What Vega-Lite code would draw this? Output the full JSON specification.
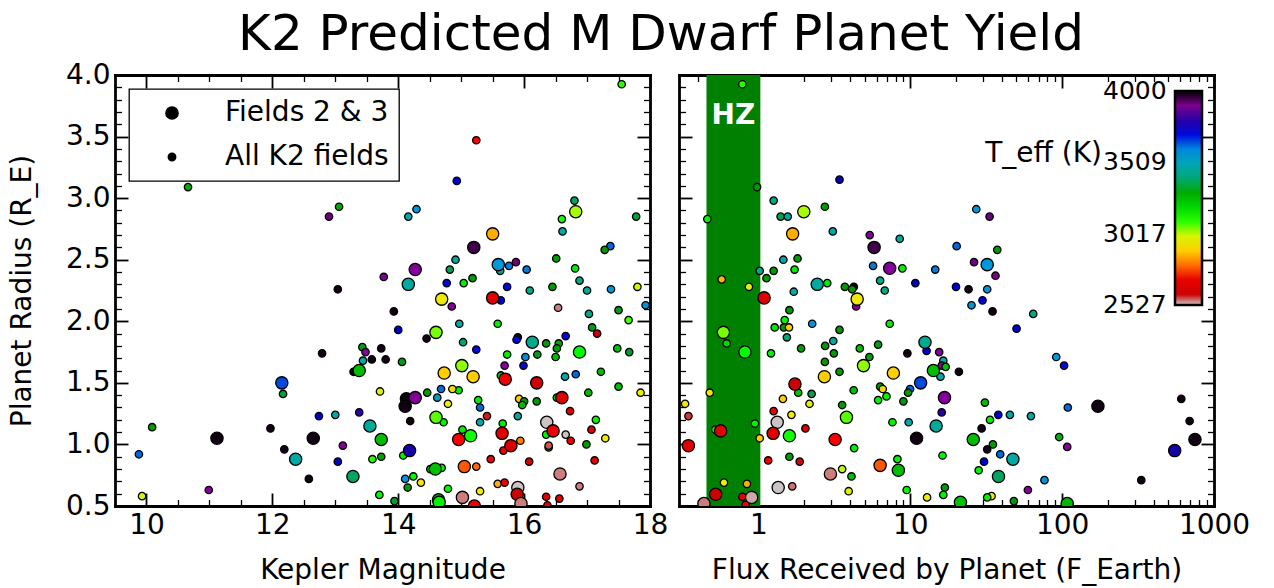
{
  "$schema": "https://vega.github.io/schema/vega-lite/v6.json",
  "background": "white",
  "padding": {"left": 8, "top": 10, "right": 5, "bottom": 8},
  "bounds": "flush",
  "title": {"text": "K2 Predicted M Dwarf Planet Yield", "font": "DejaVu Sans", "fontSize": 50, "fontWeight": "normal", "color": "black", "anchor": "middle", "offset": 1, "dx": 32},
  "config": {
    "font": "DejaVu Sans",
    "view": {"stroke": null},
    "axis": {"labelFont": "DejaVu Sans", "labelFontSize": 28, "labelColor": "black", "titleFont": "DejaVu Sans", "titleFontSize": 28, "titleFontWeight": "normal", "titleColor": "black", "grid": false, "tickColor": "black", "domainColor": "black", "labelFlush": false, "labelOverlap": false, "zindex": 1},
    "legend": {"strokeWidth": 1.3}
  },
  "datasets": {
    "left": [
      {"mag":10.66,"radius":3.09,"teff":3300,"group":"All K2 fields"},
      {"mag":14.93,"radius":3.14,"teff":3720,"group":"All K2 fields"},
      {"mag":13.06,"radius":2.93,"teff":3300,"group":"All K2 fields"},
      {"mag":12.90,"radius":2.85,"teff":3930,"group":"All K2 fields"},
      {"mag":14.29,"radius":2.91,"teff":3560,"group":"All K2 fields"},
      {"mag":14.16,"radius":2.85,"teff":3470,"group":"All K2 fields"},
      {"mag":14.91,"radius":2.50,"teff":3470,"group":"All K2 fields"},
      {"mag":14.82,"radius":2.42,"teff":3380,"group":"All K2 fields"},
      {"mag":14.27,"radius":2.42,"teff":3850,"group":"Fields 2 & 3"},
      {"mag":13.77,"radius":2.36,"teff":3850,"group":"All K2 fields"},
      {"mag":14.16,"radius":2.30,"teff":3470,"group":"Fields 2 & 3"},
      {"mag":14.77,"radius":2.31,"teff":3700,"group":"All K2 fields"},
      {"mag":13.04,"radius":2.26,"teff":3990,"group":"All K2 fields"},
      {"mag":14.69,"radius":2.18,"teff":2960,"group":"Fields 2 & 3"},
      {"mag":17.55,"radius":3.925,"teff":3100,"group":"All K2 fields"},
      {"mag":15.24,"radius":3.47,"teff":2745,"group":"All K2 fields"},
      {"mag":16.80,"radius":2.98,"teff":3390,"group":"All K2 fields"},
      {"mag":16.82,"radius":2.89,"teff":3050,"group":"Fields 2 & 3"},
      {"mag":16.60,"radius":2.83,"teff":3110,"group":"All K2 fields"},
      {"mag":17.78,"radius":2.85,"teff":3370,"group":"All K2 fields"},
      {"mag":16.61,"radius":2.73,"teff":3480,"group":"All K2 fields"},
      {"mag":15.50,"radius":2.71,"teff":2850,"group":"Fields 2 & 3"},
      {"mag":15.20,"radius":2.60,"teff":3960,"group":"Fields 2 & 3"},
      {"mag":17.37,"radius":2.61,"teff":3640,"group":"All K2 fields"},
      {"mag":17.28,"radius":2.58,"teff":3340,"group":"All K2 fields"},
      {"mag":16.51,"radius":2.51,"teff":3340,"group":"All K2 fields"},
      {"mag":15.59,"radius":2.46,"teff":3560,"group":"Fields 2 & 3"},
      {"mag":15.62,"radius":2.41,"teff":3420,"group":"All K2 fields"},
      {"mag":15.76,"radius":2.45,"teff":3620,"group":"All K2 fields"},
      {"mag":15.87,"radius":2.48,"teff":3930,"group":"All K2 fields"},
      {"mag":16.04,"radius":2.42,"teff":3620,"group":"All K2 fields"},
      {"mag":16.81,"radius":2.43,"teff":3150,"group":"All K2 fields"},
      {"mag":16.88,"radius":2.33,"teff":3410,"group":"All K2 fields"},
      {"mag":17.80,"radius":2.28,"teff":3010,"group":"All K2 fields"},
      {"mag":15.04,"radius":2.31,"teff":3150,"group":"All K2 fields"},
      {"mag":15.18,"radius":2.35,"teff":3340,"group":"All K2 fields"},
      {"mag":15.73,"radius":2.28,"teff":3700,"group":"All K2 fields"},
      {"mag":16.09,"radius":2.25,"teff":3410,"group":"All K2 fields"},
      {"mag":16.45,"radius":2.28,"teff":3330,"group":"All K2 fields"},
      {"mag":17.00,"radius":2.25,"teff":3440,"group":"All K2 fields"},
      {"mag":17.38,"radius":2.26,"teff":3560,"group":"All K2 fields"},
      {"mag":15.50,"radius":2.19,"teff":2680,"group":"Fields 2 & 3"},
      {"mag":15.63,"radius":2.17,"teff":3730,"group":"All K2 fields"},
      {"mag":16.54,"radius":2.11,"teff":2555,"group":"All K2 fields"},
      {"mag":17.03,"radius":2.06,"teff":3410,"group":"All K2 fields"},
      {"mag":17.50,"radius":2.09,"teff":3350,"group":"All K2 fields"},
      {"mag":17.93,"radius":2.13,"teff":3570,"group":"All K2 fields"},
      {"mag":14.97,"radius":1.98,"teff":3480,"group":"All K2 fields"},
      {"mag":15.58,"radius":1.98,"teff":3150,"group":"All K2 fields"},
      {"mag":17.66,"radius":2.01,"teff":3090,"group":"All K2 fields"},
      {"mag":17.08,"radius":1.95,"teff":3350,"group":"All K2 fields"},
      {"mag":17.16,"radius":1.90,"teff":2600,"group":"All K2 fields"},
      {"mag":15.03,"radius":1.83,"teff":3400,"group":"All K2 fields"},
      {"mag":15.24,"radius":1.77,"teff":3700,"group":"All K2 fields"},
      {"mag":15.90,"radius":1.87,"teff":3990,"group":"All K2 fields"},
      {"mag":15.88,"radius":1.85,"teff":3700,"group":"All K2 fields"},
      {"mag":16.13,"radius":1.83,"teff":3420,"group":"Fields 2 & 3"},
      {"mag":16.35,"radius":1.82,"teff":3340,"group":"All K2 fields"},
      {"mag":16.55,"radius":1.82,"teff":3300,"group":"All K2 fields"},
      {"mag":16.52,"radius":1.78,"teff":3340,"group":"All K2 fields"},
      {"mag":16.66,"radius":1.88,"teff":3700,"group":"All K2 fields"},
      {"mag":16.88,"radius":1.75,"teff":3120,"group":"Fields 2 & 3"},
      {"mag":17.48,"radius":1.78,"teff":3250,"group":"All K2 fields"},
      {"mag":17.67,"radius":1.75,"teff":3360,"group":"All K2 fields"},
      {"mag":15.73,"radius":1.73,"teff":3150,"group":"All K2 fields"},
      {"mag":16.02,"radius":1.71,"teff":3590,"group":"All K2 fields"},
      {"mag":16.21,"radius":1.73,"teff":3350,"group":"All K2 fields"},
      {"mag":16.50,"radius":1.71,"teff":3260,"group":"All K2 fields"},
      {"mag":15.99,"radius":1.64,"teff":3700,"group":"All K2 fields"},
      {"mag":15.69,"radius":1.64,"teff":3850,"group":"All K2 fields"},
      {"mag":15.01,"radius":1.64,"teff":3060,"group":"Fields 2 & 3"},
      {"mag":15.19,"radius":1.55,"teff":2900,"group":"Fields 2 & 3"},
      {"mag":15.63,"radius":1.56,"teff":3250,"group":"All K2 fields"},
      {"mag":15.70,"radius":1.53,"teff":2720,"group":"Fields 2 & 3"},
      {"mag":16.20,"radius":1.50,"teff":2610,"group":"Fields 2 & 3"},
      {"mag":16.65,"radius":1.55,"teff":3480,"group":"All K2 fields"},
      {"mag":16.82,"radius":1.57,"teff":3640,"group":"All K2 fields"},
      {"mag":17.22,"radius":1.59,"teff":3260,"group":"All K2 fields"},
      {"mag":17.50,"radius":1.47,"teff":3260,"group":"All K2 fields"},
      {"mag":17.85,"radius":1.42,"teff":2970,"group":"All K2 fields"},
      {"mag":17.02,"radius":1.42,"teff":3260,"group":"All K2 fields"},
      {"mag":16.52,"radius":1.38,"teff":3250,"group":"All K2 fields"},
      {"mag":16.60,"radius":1.38,"teff":2680,"group":"Fields 2 & 3"},
      {"mag":16.73,"radius":1.27,"teff":2680,"group":"All K2 fields"},
      {"mag":14.96,"radius":1.44,"teff":3150,"group":"All K2 fields"},
      {"mag":15.27,"radius":1.36,"teff":3150,"group":"All K2 fields"},
      {"mag":15.30,"radius":1.30,"teff":3640,"group":"All K2 fields"},
      {"mag":15.41,"radius":1.23,"teff":2590,"group":"All K2 fields"},
      {"mag":15.30,"radius":1.18,"teff":3470,"group":"All K2 fields"},
      {"mag":15.92,"radius":1.37,"teff":2900,"group":"All K2 fields"},
      {"mag":16.00,"radius":1.35,"teff":3340,"group":"All K2 fields"},
      {"mag":15.97,"radius":1.32,"teff":3260,"group":"All K2 fields"},
      {"mag":16.20,"radius":1.35,"teff":3340,"group":"All K2 fields"},
      {"mag":15.90,"radius":1.23,"teff":3470,"group":"All K2 fields"},
      {"mag":15.02,"radius":1.12,"teff":3150,"group":"All K2 fields"},
      {"mag":15.15,"radius":1.07,"teff":3110,"group":"Fields 2 & 3"},
      {"mag":14.96,"radius":1.04,"teff":2740,"group":"Fields 2 & 3"},
      {"mag":15.66,"radius":1.17,"teff":3150,"group":"All K2 fields"},
      {"mag":15.65,"radius":1.09,"teff":2680,"group":"Fields 2 & 3"},
      {"mag":16.36,"radius":1.18,"teff":2530,"group":"Fields 2 & 3"},
      {"mag":16.46,"radius":1.11,"teff":2720,"group":"Fields 2 & 3"},
      {"mag":16.35,"radius":1.08,"teff":3130,"group":"All K2 fields"},
      {"mag":16.66,"radius":1.08,"teff":2530,"group":"All K2 fields"},
      {"mag":16.74,"radius":1.03,"teff":2700,"group":"All K2 fields"},
      {"mag":17.07,"radius":1.12,"teff":2700,"group":"All K2 fields"},
      {"mag":17.14,"radius":1.20,"teff":3130,"group":"All K2 fields"},
      {"mag":17.29,"radius":1.05,"teff":2960,"group":"All K2 fields"},
      {"mag":16.99,"radius":1.00,"teff":3330,"group":"All K2 fields"},
      {"mag":16.39,"radius":0.975,"teff":3340,"group":"All K2 fields"},
      {"mag":16.39,"radius":0.99,"teff":2570,"group":"All K2 fields"},
      {"mag":15.79,"radius":0.99,"teff":2670,"group":"Fields 2 & 3"},
      {"mag":15.67,"radius":0.95,"teff":2710,"group":"All K2 fields"},
      {"mag":15.94,"radius":1.03,"teff":2810,"group":"All K2 fields"},
      {"mag":15.05,"radius":0.82,"teff":2790,"group":"Fields 2 & 3"},
      {"mag":15.24,"radius":0.82,"teff":2800,"group":"All K2 fields"},
      {"mag":15.47,"radius":0.88,"teff":2710,"group":"All K2 fields"},
      {"mag":16.08,"radius":0.86,"teff":2670,"group":"All K2 fields"},
      {"mag":17.12,"radius":0.87,"teff":2690,"group":"All K2 fields"},
      {"mag":16.57,"radius":0.76,"teff":2555,"group":"Fields 2 & 3"},
      {"mag":16.88,"radius":0.66,"teff":2555,"group":"All K2 fields"},
      {"mag":15.58,"radius":0.68,"teff":2850,"group":"All K2 fields"},
      {"mag":15.69,"radius":0.69,"teff":2710,"group":"All K2 fields"},
      {"mag":15.30,"radius":0.62,"teff":2970,"group":"All K2 fields"},
      {"mag":15.90,"radius":0.65,"teff":2530,"group":"Fields 2 & 3"},
      {"mag":15.89,"radius":0.595,"teff":2600,"group":"Fields 2 & 3"},
      {"mag":15.95,"radius":0.52,"teff":2555,"group":"Fields 2 & 3"},
      {"mag":16.35,"radius":0.575,"teff":2670,"group":"All K2 fields"},
      {"mag":16.56,"radius":0.56,"teff":2680,"group":"All K2 fields"},
      {"mag":16.37,"radius":0.505,"teff":2700,"group":"All K2 fields"},
      {"mag":15.02,"radius":0.57,"teff":2555,"group":"Fields 2 & 3"},
      {"mag":15.21,"radius":0.50,"teff":2720,"group":"Fields 2 & 3"},
      {"mag":14.85,"radius":2.12,"teff":3880,"group":"All K2 fields"},
      {"mag":13.93,"radius":2.08,"teff":3990,"group":"All K2 fields"},
      {"mag":14.00,"radius":1.93,"teff":3730,"group":"All K2 fields"},
      {"mag":14.45,"radius":1.86,"teff":3990,"group":"All K2 fields"},
      {"mag":14.60,"radius":1.91,"teff":3070,"group":"Fields 2 & 3"},
      {"mag":12.79,"radius":1.74,"teff":3990,"group":"All K2 fields"},
      {"mag":13.43,"radius":1.79,"teff":3350,"group":"All K2 fields"},
      {"mag":13.48,"radius":1.75,"teff":3850,"group":"All K2 fields"},
      {"mag":13.73,"radius":1.78,"teff":3990,"group":"All K2 fields"},
      {"mag":13.44,"radius":1.68,"teff":3470,"group":"All K2 fields"},
      {"mag":13.58,"radius":1.69,"teff":3990,"group":"All K2 fields"},
      {"mag":13.80,"radius":1.69,"teff":3990,"group":"All K2 fields"},
      {"mag":14.06,"radius":1.67,"teff":3350,"group":"All K2 fields"},
      {"mag":13.29,"radius":1.59,"teff":3990,"group":"All K2 fields"},
      {"mag":13.38,"radius":1.60,"teff":3260,"group":"Fields 2 & 3"},
      {"mag":14.73,"radius":1.58,"teff":2900,"group":"Fields 2 & 3"},
      {"mag":12.15,"radius":1.50,"teff":3660,"group":"Fields 2 & 3"},
      {"mag":12.17,"radius":1.41,"teff":3370,"group":"All K2 fields"},
      {"mag":13.71,"radius":1.43,"teff":3000,"group":"All K2 fields"},
      {"mag":14.13,"radius":1.37,"teff":3990,"group":"Fields 2 & 3"},
      {"mag":14.27,"radius":1.38,"teff":3850,"group":"Fields 2 & 3"},
      {"mag":14.11,"radius":1.31,"teff":3990,"group":"Fields 2 & 3"},
      {"mag":14.46,"radius":1.42,"teff":3340,"group":"All K2 fields"},
      {"mag":14.62,"radius":1.38,"teff":3530,"group":"All K2 fields"},
      {"mag":14.68,"radius":1.45,"teff":3640,"group":"All K2 fields"},
      {"mag":14.86,"radius":1.45,"teff":2920,"group":"All K2 fields"},
      {"mag":14.79,"radius":1.33,"teff":2970,"group":"All K2 fields"},
      {"mag":14.19,"radius":1.19,"teff":3990,"group":"All K2 fields"},
      {"mag":14.60,"radius":1.22,"teff":3080,"group":"Fields 2 & 3"},
      {"mag":14.72,"radius":1.18,"teff":3140,"group":"All K2 fields"},
      {"mag":12.74,"radius":1.23,"teff":3730,"group":"All K2 fields"},
      {"mag":13.00,"radius":1.24,"teff":3480,"group":"All K2 fields"},
      {"mag":13.38,"radius":1.26,"teff":3800,"group":"All K2 fields"},
      {"mag":13.55,"radius":1.15,"teff":3450,"group":"Fields 2 & 3"},
      {"mag":13.73,"radius":1.04,"teff":3260,"group":"Fields 2 & 3"},
      {"mag":11.97,"radius":1.13,"teff":3990,"group":"All K2 fields"},
      {"mag":12.65,"radius":1.05,"teff":3990,"group":"Fields 2 & 3"},
      {"mag":12.19,"radius":0.96,"teff":3990,"group":"All K2 fields"},
      {"mag":13.12,"radius":0.99,"teff":3860,"group":"All K2 fields"},
      {"mag":12.37,"radius":0.88,"teff":3470,"group":"Fields 2 & 3"},
      {"mag":13.04,"radius":0.86,"teff":3730,"group":"All K2 fields"},
      {"mag":13.59,"radius":0.88,"teff":3100,"group":"All K2 fields"},
      {"mag":13.73,"radius":0.90,"teff":3320,"group":"All K2 fields"},
      {"mag":14.08,"radius":0.91,"teff":3140,"group":"All K2 fields"},
      {"mag":14.18,"radius":0.95,"teff":3790,"group":"Fields 2 & 3"},
      {"mag":14.51,"radius":0.80,"teff":3260,"group":"All K2 fields"},
      {"mag":14.59,"radius":0.80,"teff":3250,"group":"Fields 2 & 3"},
      {"mag":14.69,"radius":0.81,"teff":3130,"group":"All K2 fields"},
      {"mag":13.28,"radius":0.74,"teff":3390,"group":"Fields 2 & 3"},
      {"mag":12.58,"radius":0.72,"teff":3990,"group":"All K2 fields"},
      {"mag":14.11,"radius":0.72,"teff":3560,"group":"All K2 fields"},
      {"mag":14.24,"radius":0.74,"teff":3130,"group":"All K2 fields"},
      {"mag":14.36,"radius":0.69,"teff":2960,"group":"All K2 fields"},
      {"mag":14.15,"radius":0.65,"teff":3340,"group":"All K2 fields"},
      {"mag":14.79,"radius":0.64,"teff":3130,"group":"All K2 fields"},
      {"mag":13.70,"radius":0.59,"teff":3130,"group":"All K2 fields"},
      {"mag":13.94,"radius":0.54,"teff":3360,"group":"All K2 fields"},
      {"mag":14.64,"radius":0.55,"teff":3300,"group":"Fields 2 & 3"},
      {"mag":14.65,"radius":0.53,"teff":3140,"group":"Fields 2 & 3"},
      {"mag":9.88,"radius":0.92,"teff":3640,"group":"All K2 fields"},
      {"mag":10.09,"radius":1.14,"teff":3330,"group":"All K2 fields"},
      {"mag":11.12,"radius":1.05,"teff":3990,"group":"Fields 2 & 3"},
      {"mag":9.93,"radius":0.58,"teff":3000,"group":"All K2 fields"},
      {"mag":10.99,"radius":0.63,"teff":3850,"group":"All K2 fields"}
    ],
    "right": [
      {"flux":0.784,"radius":3.925,"teff":3100,"group":"All K2 fields"},
      {"flux":0.98,"radius":3.09,"teff":3330,"group":"All K2 fields"},
      {"flux":0.461,"radius":2.83,"teff":3130,"group":"All K2 fields"},
      {"flux":3.42,"radius":3.15,"teff":3730,"group":"All K2 fields"},
      {"flux":1.26,"radius":2.98,"teff":3410,"group":"All K2 fields"},
      {"flux":1.99,"radius":2.89,"teff":3050,"group":"Fields 2 & 3"},
      {"flux":2.74,"radius":2.93,"teff":3330,"group":"All K2 fields"},
      {"flux":1.40,"radius":2.85,"teff":3380,"group":"All K2 fields"},
      {"flux":1.56,"radius":2.85,"teff":3470,"group":"All K2 fields"},
      {"flux":3.09,"radius":2.73,"teff":3480,"group":"All K2 fields"},
      {"flux":1.68,"radius":2.71,"teff":2850,"group":"Fields 2 & 3"},
      {"flux":1.02,"radius":2.41,"teff":3420,"group":"All K2 fields"},
      {"flux":1.13,"radius":2.35,"teff":3340,"group":"All K2 fields"},
      {"flux":1.26,"radius":2.41,"teff":3340,"group":"All K2 fields"},
      {"flux":1.46,"radius":2.50,"teff":3470,"group":"All K2 fields"},
      {"flux":1.81,"radius":2.51,"teff":3340,"group":"All K2 fields"},
      {"flux":1.73,"radius":2.42,"teff":3150,"group":"All K2 fields"},
      {"flux":0.573,"radius":2.34,"teff":2860,"group":"All K2 fields"},
      {"flux":0.866,"radius":2.28,"teff":2990,"group":"All K2 fields"},
      {"flux":2.44,"radius":2.30,"teff":3470,"group":"Fields 2 & 3"},
      {"flux":2.84,"radius":2.31,"teff":3150,"group":"All K2 fields"},
      {"flux":3.71,"radius":2.28,"teff":3340,"group":"All K2 fields"},
      {"flux":4.25,"radius":2.28,"teff":3990,"group":"All K2 fields"},
      {"flux":4.14,"radius":2.26,"teff":3340,"group":"All K2 fields"},
      {"flux":4.47,"radius":2.18,"teff":2960,"group":"Fields 2 & 3"},
      {"flux":1.71,"radius":2.24,"teff":3480,"group":"All K2 fields"},
      {"flux":1.09,"radius":2.19,"teff":2680,"group":"Fields 2 & 3"},
      {"flux":27.2,"radius":2.91,"teff":3560,"group":"All K2 fields"},
      {"flux":33.3,"radius":2.85,"teff":3930,"group":"All K2 fields"},
      {"flux":5.41,"radius":2.70,"teff":3850,"group":"All K2 fields"},
      {"flux":8.52,"radius":2.67,"teff":3470,"group":"All K2 fields"},
      {"flux":5.78,"radius":2.60,"teff":3960,"group":"Fields 2 & 3"},
      {"flux":20.2,"radius":2.61,"teff":3640,"group":"All K2 fields"},
      {"flux":37.4,"radius":2.58,"teff":3340,"group":"All K2 fields"},
      {"flux":26.3,"radius":2.48,"teff":3930,"group":"All K2 fields"},
      {"flux":32.1,"radius":2.46,"teff":3560,"group":"Fields 2 & 3"},
      {"flux":36.4,"radius":2.37,"teff":3900,"group":"All K2 fields"},
      {"flux":5.69,"radius":2.45,"teff":3620,"group":"All K2 fields"},
      {"flux":7.32,"radius":2.43,"teff":3850,"group":"Fields 2 & 3"},
      {"flux":8.87,"radius":2.43,"teff":3140,"group":"All K2 fields"},
      {"flux":6.33,"radius":2.33,"teff":3410,"group":"All K2 fields"},
      {"flux":6.79,"radius":2.25,"teff":3410,"group":"All K2 fields"},
      {"flux":10.8,"radius":2.31,"teff":3730,"group":"All K2 fields"},
      {"flux":14.6,"radius":2.42,"teff":3620,"group":"All K2 fields"},
      {"flux":20.0,"radius":2.28,"teff":3710,"group":"All K2 fields"},
      {"flux":24.2,"radius":2.26,"teff":3990,"group":"All K2 fields"},
      {"flux":32.1,"radius":2.26,"teff":3560,"group":"All K2 fields"},
      {"flux":91.4,"radius":1.71,"teff":3560,"group":"All K2 fields"},
      {"flux":103,"radius":1.64,"teff":3700,"group":"All K2 fields"},
      {"flux":109,"radius":1.30,"teff":3640,"group":"All K2 fields"},
      {"flux":172,"radius":1.31,"teff":3990,"group":"Fields 2 & 3"},
      {"flux":95.6,"radius":1.06,"teff":3280,"group":"All K2 fields"},
      {"flux":108,"radius":0.98,"teff":3860,"group":"All K2 fields"},
      {"flux":76.5,"radius":0.71,"teff":3570,"group":"All K2 fields"},
      {"flux":332,"radius":0.71,"teff":3990,"group":"All K2 fields"},
      {"flux":609,"radius":1.37,"teff":3990,"group":"All K2 fields"},
      {"flux":691,"radius":1.19,"teff":3990,"group":"All K2 fields"},
      {"flux":749,"radius":1.04,"teff":3990,"group":"Fields 2 & 3"},
      {"flux":551,"radius":0.95,"teff":3790,"group":"Fields 2 & 3"},
      {"flux":108,"radius":0.52,"teff":3270,"group":"Fields 2 & 3"},
      {"flux":25.3,"radius":2.13,"teff":3560,"group":"All K2 fields"},
      {"flux":29.9,"radius":2.17,"teff":3710,"group":"All K2 fields"},
      {"flux":34.8,"radius":2.08,"teff":3990,"group":"All K2 fields"},
      {"flux":64.5,"radius":2.06,"teff":3410,"group":"All K2 fields"},
      {"flux":7.32,"radius":1.98,"teff":3150,"group":"All K2 fields"},
      {"flux":50.1,"radius":1.94,"teff":3720,"group":"All K2 fields"},
      {"flux":6.14,"radius":1.81,"teff":3350,"group":"All K2 fields"},
      {"flux":4.65,"radius":1.78,"teff":3250,"group":"All K2 fields"},
      {"flux":5.38,"radius":1.71,"teff":3350,"group":"All K2 fields"},
      {"flux":4.92,"radius":1.64,"teff":3060,"group":"Fields 2 & 3"},
      {"flux":7.74,"radius":1.58,"teff":2900,"group":"Fields 2 & 3"},
      {"flux":9.57,"radius":1.74,"teff":3990,"group":"All K2 fields"},
      {"flux":12.5,"radius":1.83,"teff":3420,"group":"Fields 2 & 3"},
      {"flux":12.8,"radius":1.76,"teff":3720,"group":"All K2 fields"},
      {"flux":15.5,"radius":1.75,"teff":3850,"group":"All K2 fields"},
      {"flux":16.5,"radius":1.68,"teff":3470,"group":"All K2 fields"},
      {"flux":16.1,"radius":1.64,"teff":3860,"group":"All K2 fields"},
      {"flux":17.1,"radius":1.63,"teff":3250,"group":"All K2 fields"},
      {"flux":14.2,"radius":1.60,"teff":3260,"group":"Fields 2 & 3"},
      {"flux":15.8,"radius":1.55,"teff":3470,"group":"All K2 fields"},
      {"flux":20.9,"radius":1.59,"teff":3990,"group":"All K2 fields"},
      {"flux":11.7,"radius":1.50,"teff":3660,"group":"Fields 2 & 3"},
      {"flux":9.97,"radius":1.45,"teff":3640,"group":"All K2 fields"},
      {"flux":9.67,"radius":1.42,"teff":3340,"group":"All K2 fields"},
      {"flux":6.33,"radius":1.47,"teff":3340,"group":"All K2 fields"},
      {"flux":6.59,"radius":1.45,"teff":2920,"group":"All K2 fields"},
      {"flux":6.97,"radius":1.39,"teff":3140,"group":"All K2 fields"},
      {"flux":6.14,"radius":1.36,"teff":3140,"group":"All K2 fields"},
      {"flux":9.01,"radius":1.35,"teff":3340,"group":"All K2 fields"},
      {"flux":16.8,"radius":1.38,"teff":3850,"group":"Fields 2 & 3"},
      {"flux":16.1,"radius":1.26,"teff":3800,"group":"All K2 fields"},
      {"flux":7.63,"radius":1.18,"teff":3140,"group":"All K2 fields"},
      {"flux":9.76,"radius":1.18,"teff":3480,"group":"All K2 fields"},
      {"flux":14.8,"radius":1.15,"teff":3450,"group":"Fields 2 & 3"},
      {"flux":11.0,"radius":1.05,"teff":3990,"group":"Fields 2 & 3"},
      {"flux":31.0,"radius":1.34,"teff":3260,"group":"All K2 fields"},
      {"flux":38.0,"radius":1.24,"teff":3720,"group":"All K2 fields"},
      {"flux":33.5,"radius":1.20,"teff":3140,"group":"All K2 fields"},
      {"flux":45.3,"radius":1.24,"teff":3480,"group":"All K2 fields"},
      {"flux":62.3,"radius":1.23,"teff":3480,"group":"All K2 fields"},
      {"flux":29.5,"radius":1.13,"teff":3990,"group":"All K2 fields"},
      {"flux":26.0,"radius":1.04,"teff":3260,"group":"Fields 2 & 3"},
      {"flux":35.0,"radius":1.00,"teff":3330,"group":"All K2 fields"},
      {"flux":32.1,"radius":0.96,"teff":3990,"group":"All K2 fields"},
      {"flux":39.1,"radius":0.92,"teff":3640,"group":"All K2 fields"},
      {"flux":47.4,"radius":0.88,"teff":3470,"group":"Fields 2 & 3"},
      {"flux":30.6,"radius":0.86,"teff":3720,"group":"All K2 fields"},
      {"flux":28.2,"radius":0.79,"teff":3140,"group":"All K2 fields"},
      {"flux":38.1,"radius":0.74,"teff":3390,"group":"Fields 2 & 3"},
      {"flux":59.5,"radius":0.63,"teff":3860,"group":"All K2 fields"},
      {"flux":48.1,"radius":0.54,"teff":3340,"group":"All K2 fields"},
      {"flux":34.3,"radius":0.58,"teff":2970,"group":"All K2 fields"},
      {"flux":32.1,"radius":0.57,"teff":3140,"group":"All K2 fields"},
      {"flux":21.4,"radius":0.53,"teff":3250,"group":"Fields 2 & 3"},
      {"flux":16.9,"radius":0.65,"teff":3340,"group":"All K2 fields"},
      {"flux":16.5,"radius":0.59,"teff":3130,"group":"All K2 fields"},
      {"flux":12.9,"radius":0.57,"teff":2970,"group":"All K2 fields"},
      {"flux":9.47,"radius":0.63,"teff":3130,"group":"All K2 fields"},
      {"flux":6.33,"radius":0.83,"teff":2790,"group":"Fields 2 & 3"},
      {"flux":8.23,"radius":0.88,"teff":3130,"group":"All K2 fields"},
      {"flux":8.35,"radius":0.79,"teff":3260,"group":"Fields 2 & 3"},
      {"flux":16.3,"radius":0.91,"teff":3130,"group":"All K2 fields"},
      {"flux":4.40,"radius":2.12,"teff":3880,"group":"All K2 fields"},
      {"flux":1.60,"radius":2.09,"teff":3340,"group":"All K2 fields"},
      {"flux":1.49,"radius":2.01,"teff":3130,"group":"All K2 fields"},
      {"flux":1.28,"radius":1.95,"teff":3150,"group":"All K2 fields"},
      {"flux":1.47,"radius":1.95,"teff":3340,"group":"All K2 fields"},
      {"flux":1.59,"radius":1.95,"teff":2900,"group":"All K2 fields"},
      {"flux":1.54,"radius":1.87,"teff":3400,"group":"All K2 fields"},
      {"flux":2.26,"radius":1.98,"teff":3560,"group":"All K2 fields"},
      {"flux":3.42,"radius":1.93,"teff":3340,"group":"All K2 fields"},
      {"flux":3.11,"radius":1.84,"teff":3470,"group":"All K2 fields"},
      {"flux":2.75,"radius":1.80,"teff":3340,"group":"All K2 fields"},
      {"flux":3.14,"radius":1.74,"teff":3340,"group":"All K2 fields"},
      {"flux":1.91,"radius":1.78,"teff":3330,"group":"All K2 fields"},
      {"flux":2.74,"radius":1.67,"teff":3330,"group":"All K2 fields"},
      {"flux":3.42,"radius":1.59,"teff":3330,"group":"All K2 fields"},
      {"flux":0.588,"radius":1.91,"teff":3070,"group":"Fields 2 & 3"},
      {"flux":0.618,"radius":1.82,"teff":3200,"group":"All K2 fields"},
      {"flux":0.815,"radius":1.75,"teff":3120,"group":"Fields 2 & 3"},
      {"flux":1.21,"radius":1.74,"teff":3140,"group":"All K2 fields"},
      {"flux":2.72,"radius":1.55,"teff":2900,"group":"Fields 2 & 3"},
      {"flux":1.83,"radius":1.42,"teff":3250,"group":"All K2 fields"},
      {"flux":1.74,"radius":1.49,"teff":2610,"group":"Fields 2 & 3"},
      {"flux":2.24,"radius":1.41,"teff":3380,"group":"All K2 fields"},
      {"flux":1.45,"radius":1.37,"teff":2900,"group":"All K2 fields"},
      {"flux":2.17,"radius":1.33,"teff":2980,"group":"All K2 fields"},
      {"flux":3.56,"radius":1.32,"teff":3340,"group":"All K2 fields"},
      {"flux":4.24,"radius":1.44,"teff":3250,"group":"All K2 fields"},
      {"flux":3.80,"radius":1.22,"teff":3080,"group":"Fields 2 & 3"},
      {"flux":0.478,"radius":1.42,"teff":2950,"group":"All K2 fields"},
      {"flux":0.329,"radius":1.33,"teff":2960,"group":"All K2 fields"},
      {"flux":0.346,"radius":1.23,"teff":2580,"group":"All K2 fields"},
      {"flux":1.26,"radius":1.27,"teff":2710,"group":"All K2 fields"},
      {"flux":1.33,"radius":1.18,"teff":2530,"group":"Fields 2 & 3"},
      {"flux":1.65,"radius":1.24,"teff":2970,"group":"All K2 fields"},
      {"flux":1.25,"radius":1.09,"teff":2680,"group":"Fields 2 & 3"},
      {"flux":1.60,"radius":1.07,"teff":3110,"group":"Fields 2 & 3"},
      {"flux":2.04,"radius":1.13,"teff":2670,"group":"All K2 fields"},
      {"flux":3.20,"radius":1.04,"teff":2740,"group":"Fields 2 & 3"},
      {"flux":4.27,"radius":0.97,"teff":3140,"group":"All K2 fields"},
      {"flux":0.52,"radius":1.12,"teff":3140,"group":"All K2 fields"},
      {"flux":0.564,"radius":1.11,"teff":2680,"group":"Fields 2 & 3"},
      {"flux":0.948,"radius":1.17,"teff":3140,"group":"All K2 fields"},
      {"flux":1.02,"radius":1.05,"teff":2900,"group":"All K2 fields"},
      {"flux":0.346,"radius":0.99,"teff":2680,"group":"Fields 2 & 3"},
      {"flux":1.16,"radius":0.87,"teff":2720,"group":"All K2 fields"},
      {"flux":1.60,"radius":0.90,"teff":3340,"group":"All K2 fields"},
      {"flux":1.87,"radius":0.86,"teff":2670,"group":"All K2 fields"},
      {"flux":2.98,"radius":0.76,"teff":2555,"group":"Fields 2 & 3"},
      {"flux":3.56,"radius":0.80,"teff":3040,"group":"All K2 fields"},
      {"flux":4.10,"radius":0.74,"teff":3250,"group":"All K2 fields"},
      {"flux":3.93,"radius":0.62,"teff":2990,"group":"All K2 fields"},
      {"flux":1.35,"radius":0.65,"teff":2530,"group":"Fields 2 & 3"},
      {"flux":1.67,"radius":0.66,"teff":2560,"group":"All K2 fields"},
      {"flux":0.593,"radius":0.69,"teff":2970,"group":"All K2 fields"},
      {"flux":0.840,"radius":0.68,"teff":2850,"group":"All K2 fields"},
      {"flux":0.523,"radius":0.595,"teff":2600,"group":"Fields 2 & 3"},
      {"flux":0.438,"radius":0.52,"teff":2555,"group":"Fields 2 & 3"},
      {"flux":0.784,"radius":0.575,"teff":2700,"group":"All K2 fields"},
      {"flux":0.902,"radius":0.57,"teff":2540,"group":"Fields 2 & 3"},
      {"flux":0.824,"radius":0.51,"teff":2720,"group":"All K2 fields"}
    ],
    "hz": [{"lo": 0.455, "hi": 1.03, "bottom": 0.5, "top": 4.0}],
    "hzlabel": [{"flux": 0.685, "radius": 3.67, "label": "HZ"}],
    "cbtitle": [{"flux": 183, "radius": 3.36, "label": "T_eff (K)"}]
  },
  "spacing": 29,
  "resolve": {"scale": {"color": "independent", "size": "independent"}, "legend": {"color": "independent", "size": "independent"}},
  "hconcat": [
    {
      "width": 535,
      "height": 431,
      "resolve": {"axis": {"x": "independent", "y": "independent"}},
      "layer": [
        {
          "data": {"name": "left"},
          "mark": {"type": "circle", "stroke": "black", "strokeWidth": 1.3, "opacity": 1, "clip": true},
          "encoding": {
            "x": {"field": "mag", "type": "quantitative", "scale": {"domain": [9.5, 18], "nice": false, "zero": false},
                  "axis": {"orient": "bottom", "values": [10, 12, 14, 16, 18], "format": "d", "title": "Kepler Magnitude", "tickSize": -13, "tickWidth": 1.8, "labelPadding": 18, "titlePadding": 17, "domain": true, "domainWidth": 2.8, "domainCap": "square"}},
            "y": {"field": "radius", "type": "quantitative", "scale": {"domain": [0.5, 4.0], "nice": false, "zero": false},
                  "axis": {"orient": "left", "values": [0.5, 1.0, 1.5, 2.0, 2.5, 3.0, 3.5, 4.0], "format": ".1f", "title": "Planet Radius (R_E)", "tickSize": -13, "tickWidth": 1.8, "labelPadding": 18, "titlePadding": 29, "domain": true, "domainWidth": 2.8, "domainCap": "square"}},
            "color": {"field": "teff", "type": "quantitative",
                      "scale": {"type": "linear", "interpolate": "rgb", "clamp": true,
                                "domain": [2527, 2600.65, 2674.3, 2747.95, 2821.6, 2895.25, 2968.9, 3042.55, 3116.2, 3189.85, 3263.5, 3337.15, 3410.8, 3484.45, 3558.1, 3631.75, 3705.4, 3779.05, 3852.7, 3926.35, 4000],
                                "range": ["#cccccc", "#cc0000", "#dd0000", "#ff0000", "#ff9900", "#ffcc00", "#eeee00", "#bbff00", "#00ff00", "#00dd00", "#00bb00", "#009900", "#00aa88", "#00aaaa", "#0099dd", "#0077dd", "#0000dd", "#0000aa", "#880099", "#770088", "#000000"]},
                      "legend": null},
            "size": {"field": "group", "type": "nominal",
                     "scale": {"domain": ["Fields 2 & 3", "All K2 fields"], "range": [150, 55]},
                     "legend": {"title": null, "orient": "top-left", "offset": 14, "padding": 10, "symbolOffset": 19, "labelOffset": 39, "rowPadding": 16, "strokeColor": "black", "fillColor": "white", "cornerRadius": 0, "labelFont": "DejaVu Sans", "labelFontSize": 28, "labelColor": "black", "labelLimit": 400, "symbolType": "circle", "symbolFillColor": "black", "symbolStrokeColor": "black"}},
            "order": {"field": "group", "sort": "ascending"}
          }
        },
        {
          "data": {"name": "left"},
          "mark": {"type": "point", "opacity": 0},
          "encoding": {
            "x": {"field": "mag", "type": "quantitative", "scale": {"domain": [9.5, 18], "nice": false, "zero": false},
                  "axis": {"orient": "bottom", "values": [10.5, 11, 11.5, 12.5, 13, 13.5, 14.5, 15, 15.5, 16.5, 17, 17.5], "labels": false, "title": null, "tickSize": -6.5, "tickWidth": 1.3, "domain": false}},
            "y": {"field": "radius", "type": "quantitative", "scale": {"domain": [0.5, 4.0], "nice": false, "zero": false},
                  "axis": {"orient": "left", "values": [0.6, 0.7, 0.8, 0.9, 1.1, 1.2, 1.3, 1.4, 1.6, 1.7, 1.8, 1.9, 2.1, 2.2, 2.3, 2.4, 2.6, 2.7, 2.8, 2.9, 3.1, 3.2, 3.3, 3.4, 3.6, 3.7, 3.8, 3.9], "labels": false, "title": null, "tickSize": -6.5, "tickWidth": 1.3, "domain": false}}
          }
        },
        {
          "data": {"name": "left"},
          "mark": {"type": "point", "opacity": 0},
          "encoding": {
            "x": {"field": "mag", "type": "quantitative", "scale": {"domain": [9.5, 18], "nice": false, "zero": false},
                  "axis": {"orient": "top", "values": [10, 12, 14, 16, 18], "labels": false, "title": null, "tickSize": -13, "tickWidth": 1.8, "domain": true, "domainWidth": 2.8, "domainCap": "square"}},
            "y": {"field": "radius", "type": "quantitative", "scale": {"domain": [0.5, 4.0], "nice": false, "zero": false},
                  "axis": {"orient": "right", "values": [0.5, 1.0, 1.5, 2.0, 2.5, 3.0, 3.5, 4.0], "labels": false, "title": null, "tickSize": -13, "tickWidth": 1.8, "domain": true, "domainWidth": 2.8, "domainCap": "square"}}
          }
        },
        {
          "data": {"name": "left"},
          "mark": {"type": "point", "opacity": 0},
          "encoding": {
            "x": {"field": "mag", "type": "quantitative", "scale": {"domain": [9.5, 18], "nice": false, "zero": false},
                  "axis": {"orient": "top", "values": [10.5, 11, 11.5, 12.5, 13, 13.5, 14.5, 15, 15.5, 16.5, 17, 17.5], "labels": false, "title": null, "tickSize": -6.5, "tickWidth": 1.3, "domain": false}},
            "y": {"field": "radius", "type": "quantitative", "scale": {"domain": [0.5, 4.0], "nice": false, "zero": false},
                  "axis": {"orient": "right", "values": [0.6, 0.7, 0.8, 0.9, 1.1, 1.2, 1.3, 1.4, 1.6, 1.7, 1.8, 1.9, 2.1, 2.2, 2.3, 2.4, 2.6, 2.7, 2.8, 2.9, 3.1, 3.2, 3.3, 3.4, 3.6, 3.7, 3.8, 3.9], "labels": false, "title": null, "tickSize": -6.5, "tickWidth": 1.3, "domain": false}}
          }
        }
      ]
    },
    {
      "width": 535,
      "height": 431,
      "resolve": {"axis": {"x": "independent", "y": "independent"}},
      "layer": [
        {
          "data": {"name": "hz"},
          "mark": {"type": "rect", "color": "#008000"},
          "encoding": {
            "x": {"field": "lo", "type": "quantitative", "scale": {"type": "log", "domain": [0.3, 1000], "nice": false}, "axis": null},
            "x2": {"field": "hi"},
            "y": {"field": "bottom", "type": "quantitative", "scale": {"domain": [0.5, 4.0], "nice": false, "zero": false}, "axis": null},
            "y2": {"field": "top"}
          }
        },
        {
          "data": {"name": "right"},
          "mark": {"type": "circle", "stroke": "black", "strokeWidth": 1.3, "opacity": 1, "clip": true},
          "encoding": {
            "x": {"field": "flux", "type": "quantitative", "scale": {"type": "log", "domain": [0.3, 1000], "nice": false},
                  "axis": {"orient": "bottom", "values": [1, 10, 100, 1000], "format": "d", "title": "Flux Received by Planet (F_Earth)", "tickSize": -13, "tickWidth": 1.8, "labelPadding": 18, "titlePadding": 17, "domain": true, "domainWidth": 2.8, "domainCap": "square"}},
            "y": {"field": "radius", "type": "quantitative", "scale": {"domain": [0.5, 4.0], "nice": false, "zero": false},
                  "axis": {"orient": "left", "values": [0.5, 1.0, 1.5, 2.0, 2.5, 3.0, 3.5, 4.0], "labels": false, "title": null, "tickSize": -13, "tickWidth": 1.8, "domain": true, "domainWidth": 2.8, "domainCap": "square"}},
            "color": {"field": "teff", "type": "quantitative",
                      "scale": {"type": "linear", "interpolate": "rgb", "clamp": true,
                                "domain": [2527, 2600.65, 2674.3, 2747.95, 2821.6, 2895.25, 2968.9, 3042.55, 3116.2, 3189.85, 3263.5, 3337.15, 3410.8, 3484.45, 3558.1, 3631.75, 3705.4, 3779.05, 3852.7, 3926.35, 4000],
                                "range": ["#cccccc", "#cc0000", "#dd0000", "#ff0000", "#ff9900", "#ffcc00", "#eeee00", "#bbff00", "#00ff00", "#00dd00", "#00bb00", "#009900", "#00aa88", "#00aaaa", "#0099dd", "#0077dd", "#0000dd", "#0000aa", "#880099", "#770088", "#000000"]},
                      "legend": {"type": "gradient", "direction": "vertical", "orient": "none", "legendX": 496, "legendY": 16, "title": null, "padding": 0, "gradientLength": 214, "gradientThickness": 27, "gradientStrokeColor": "black", "gradientStrokeWidth": 2.5, "values": [2527.4, 3017, 3509, 3999.6], "labelExpr": "format(round(datum.value), 'd')", "labelFont": "DejaVu Sans", "labelFontSize": 25, "labelColor": "black", "labelOverlap": false, "labelOffset": -99, "labelBaseline": "middle"}},
            "size": {"field": "group", "type": "nominal",
                     "scale": {"domain": ["Fields 2 & 3", "All K2 fields"], "range": [150, 55]},
                     "legend": null},
            "order": {"field": "group", "sort": "ascending"}
          }
        },
        {
          "data": {"name": "right"},
          "mark": {"type": "point", "opacity": 0},
          "encoding": {
            "x": {"field": "flux", "type": "quantitative", "scale": {"type": "log", "domain": [0.3, 1000], "nice": false},
                  "axis": {"orient": "bottom", "values": [0.3, 0.4, 0.5, 0.6, 0.7, 0.8, 0.9, 2, 3, 4, 5, 6, 7, 8, 9, 20, 30, 40, 50, 60, 70, 80, 90, 200, 300, 400, 500, 600, 700, 800, 900], "labels": false, "title": null, "tickSize": -6.5, "tickWidth": 1.3, "domain": false}},
            "y": {"field": "radius", "type": "quantitative", "scale": {"domain": [0.5, 4.0], "nice": false, "zero": false},
                  "axis": {"orient": "left", "values": [0.6, 0.7, 0.8, 0.9, 1.1, 1.2, 1.3, 1.4, 1.6, 1.7, 1.8, 1.9, 2.1, 2.2, 2.3, 2.4, 2.6, 2.7, 2.8, 2.9, 3.1, 3.2, 3.3, 3.4, 3.6, 3.7, 3.8, 3.9], "labels": false, "title": null, "tickSize": -6.5, "tickWidth": 1.3, "domain": false}}
          }
        },
        {
          "data": {"name": "right"},
          "mark": {"type": "point", "opacity": 0},
          "encoding": {
            "x": {"field": "flux", "type": "quantitative", "scale": {"type": "log", "domain": [0.3, 1000], "nice": false},
                  "axis": {"orient": "top", "values": [1, 10, 100, 1000], "labels": false, "title": null, "tickSize": -13, "tickWidth": 1.8, "domain": true, "domainWidth": 2.8, "domainCap": "square"}},
            "y": {"field": "radius", "type": "quantitative", "scale": {"domain": [0.5, 4.0], "nice": false, "zero": false},
                  "axis": {"orient": "right", "values": [0.5, 1.0, 1.5, 2.0, 2.5, 3.0, 3.5, 4.0], "labels": false, "title": null, "tickSize": -13, "tickWidth": 1.8, "domain": true, "domainWidth": 2.8, "domainCap": "square"}}
          }
        },
        {
          "data": {"name": "right"},
          "mark": {"type": "point", "opacity": 0},
          "encoding": {
            "x": {"field": "flux", "type": "quantitative", "scale": {"type": "log", "domain": [0.3, 1000], "nice": false},
                  "axis": {"orient": "top", "values": [0.3, 0.4, 0.5, 0.6, 0.7, 0.8, 0.9, 2, 3, 4, 5, 6, 7, 8, 9, 20, 30, 40, 50, 60, 70, 80, 90, 200, 300, 400, 500, 600, 700, 800, 900], "labels": false, "title": null, "tickSize": -6.5, "tickWidth": 1.3, "domain": false}},
            "y": {"field": "radius", "type": "quantitative", "scale": {"domain": [0.5, 4.0], "nice": false, "zero": false},
                  "axis": {"orient": "right", "values": [0.6, 0.7, 0.8, 0.9, 1.1, 1.2, 1.3, 1.4, 1.6, 1.7, 1.8, 1.9, 2.1, 2.2, 2.3, 2.4, 2.6, 2.7, 2.8, 2.9, 3.1, 3.2, 3.3, 3.4, 3.6, 3.7, 3.8, 3.9], "labels": false, "title": null, "tickSize": -6.5, "tickWidth": 1.3, "domain": false}}
          }
        },
        {
          "data": {"name": "hzlabel"},
          "mark": {"type": "text", "font": "DejaVu Sans", "fontWeight": "bold", "fontSize": 28, "color": "white", "align": "center", "baseline": "middle"},
          "encoding": {
            "x": {"field": "flux", "type": "quantitative", "scale": {"type": "log", "domain": [0.3, 1000], "nice": false}, "axis": null},
            "y": {"field": "radius", "type": "quantitative", "scale": {"domain": [0.5, 4.0], "nice": false, "zero": false}, "axis": null},
            "text": {"field": "label"}
          }
        },
        {
          "data": {"name": "cbtitle"},
          "mark": {"type": "text", "font": "DejaVu Sans", "fontSize": 28, "color": "black", "align": "right", "baseline": "middle"},
          "encoding": {
            "x": {"field": "flux", "type": "quantitative", "scale": {"type": "log", "domain": [0.3, 1000], "nice": false}, "axis": null},
            "y": {"field": "radius", "type": "quantitative", "scale": {"domain": [0.5, 4.0], "nice": false, "zero": false}, "axis": null},
            "text": {"field": "label"}
          }
        }
      ]
    }
  ]
}
